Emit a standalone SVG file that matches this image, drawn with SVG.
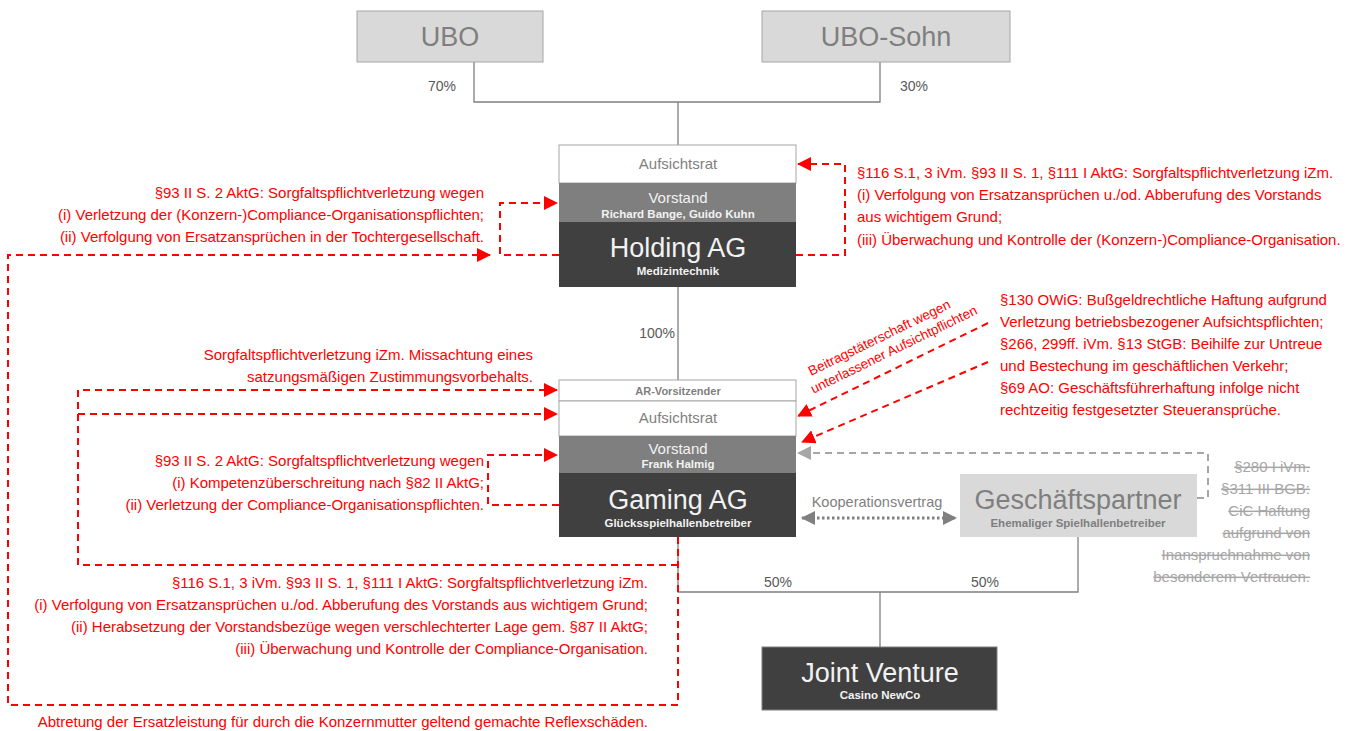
<svg xmlns="http://www.w3.org/2000/svg" width="1354" height="731" viewBox="0 0 1354 731">
<defs>
<marker id="ar" markerUnits="userSpaceOnUse" markerWidth="14" markerHeight="14" refX="13" refY="7" orient="auto"><path d="M0,0 L14,7 L0,14 z" fill="#ff0000"/></marker>
<marker id="ag" markerUnits="userSpaceOnUse" markerWidth="14" markerHeight="14" refX="13" refY="7" orient="auto"><path d="M0,0 L14,7 L0,14 z" fill="#a6a6a6"/></marker>
<marker id="ak" markerUnits="userSpaceOnUse" markerWidth="14" markerHeight="14" refX="13" refY="7" orient="auto"><path d="M0,0 L14,7 L0,14 z" fill="#808080"/></marker>
<marker id="aks" markerUnits="userSpaceOnUse" markerWidth="14" markerHeight="14" refX="1" refY="7" orient="auto"><path d="M14,0 L0,7 L14,14 z" fill="#808080"/></marker>
</defs>
<style>
text{font-family:"Liberation Sans",Arial,sans-serif}
.lt{fill:#d9d9d9;stroke:#a6a6a6;stroke-width:1}
.wh{fill:#ffffff;stroke:#a6a6a6;stroke-width:1}
.md{fill:#7f7f7f}
.dk{fill:#404040}
.big{font-size:27px;text-anchor:middle}
.mid{font-size:15px;text-anchor:middle}
.sub{font-size:11.5px;font-weight:bold;text-anchor:middle}
.gt{fill:#7f7f7f}
.wt{fill:#f2f2f2}
.pc{font-size:14px;fill:#595959}
.red{font-size:15px;fill:#ff0000}
.rt{text-anchor:end}
.st{font-size:15px;fill:#a6a6a6;text-decoration:line-through;text-anchor:end}
.ln{fill:none;stroke:#7f7f7f;stroke-width:1.3}
.rd{fill:none;stroke:#ff0000;stroke-width:2;stroke-dasharray:7,5}
.gd{fill:none;stroke:#a6a6a6;stroke-width:2;stroke-dasharray:7,5}
</style>
<rect width="1354" height="731" fill="#ffffff"/>
<g id="connectors">
<path class="ln" d="M474,62 V102 H880 V62 M678,102 V145"/>
<path class="ln" d="M678,287 V380"/>
<path class="ln" d="M678,537 V592 H1078 V537 M880,592 V647" stroke="#a6a6a6"/>
<path class="rd" d="M559,255 H500 V203 H557" marker-end="url(#ar)"/>
<path class="rd" d="M678,537 V705 H8 V255 H490" marker-end="url(#ar)"/>
<path class="rd" d="M796,255 H845 V164 H798" marker-end="url(#ar)"/>
<path class="rd" d="M678,565 H78 V390 H557" marker-end="url(#ar)"/>
<path class="rd" d="M78,414 H557" marker-end="url(#ar)"/>
<path class="rd" d="M559,505 H488 V455 H557" marker-end="url(#ar)"/>
<path class="rd" d="M988,323 L798,416" marker-end="url(#ar)"/>
<path class="rd" d="M988,362 L802,442" marker-end="url(#ar)"/>
<path class="gd" d="M1197,498 H1208 V453 H798" marker-end="url(#ag)"/>
<path d="M802,518 H956" fill="none" stroke="#808080" stroke-width="3" stroke-dasharray="2.5,2.5" marker-start="url(#aks)" marker-end="url(#ak)"/>
</g>
<g id="ubo">
<rect class="lt" x="357" y="11" width="186" height="51"/>
<text class="big gt" x="450" y="46">UBO</text>
</g>
<g id="ubo-sohn">
<rect class="lt" x="762" y="11" width="248" height="51"/>
<text class="big gt" x="886" y="46">UBO-Sohn</text>
</g>
<g id="labels-pct">
<text class="pc" x="428" y="91">70%</text>
<text class="pc" x="900" y="91">30%</text>
<text class="pc" x="675" y="338" text-anchor="end">100%</text>
<text class="pc" x="778" y="587" text-anchor="middle">50%</text>
<text class="pc" x="985" y="587" text-anchor="middle">50%</text>
</g>
<g id="holding">
<rect class="wh" x="559" y="145" width="237" height="38"/>
<text class="mid gt" x="678" y="169">Aufsichtsrat</text>
<rect class="md" x="559" y="183" width="237" height="39"/>
<text class="mid wt" x="678" y="203">Vorstand</text>
<text class="sub wt" x="678" y="218">Richard Bange, Guido Kuhn</text>
<rect class="dk" x="559" y="222" width="237" height="65"/>
<text class="big wt" x="678" y="257">Holding AG</text>
<text class="sub wt" x="678" y="275">Medizintechnik</text>
</g>
<g id="gaming">
<rect class="wh" x="559" y="380" width="237" height="21"/>
<text class="gt" x="678" y="395" font-size="11" font-weight="bold" text-anchor="middle">AR-Vorsitzender</text>
<rect class="wh" x="559" y="401" width="237" height="35"/>
<text class="mid gt" x="678" y="423">Aufsichtsrat</text>
<rect class="md" x="559" y="436" width="237" height="37"/>
<text class="mid wt" x="678" y="454">Vorstand</text>
<text class="sub wt" x="678" y="468">Frank Halmig</text>
<rect class="dk" x="559" y="473" width="237" height="64"/>
<text class="big wt" x="678" y="509">Gaming AG</text>
<text class="sub wt" x="678" y="527">Glücksspielhallenbetreiber</text>
</g>
<g id="geschaeftspartner">
<rect x="960" y="474" width="237" height="63" fill="#d9d9d9"/>
<text class="big gt" x="1078" y="509">Geschäftspartner</text>
<text class="sub gt" x="1078" y="527">Ehemaliger Spielhallenbetreiber</text>
</g>
<g id="joint-venture">
<rect class="dk" x="762" y="647" width="235" height="63" stroke="#7f7f7f"/>
<text class="big wt" x="880" y="682">Joint Venture</text>
<text class="sub wt" x="880" y="699">Casino NewCo</text>
</g>
<g id="kooperation">
<text x="877" y="507" font-size="14.5" fill="#7f7f7f" text-anchor="middle">Kooperationsvertrag</text>
</g>
<g id="text-holding-left">
<text class="red rt" x="484" y="198">§93 II S. 2 AktG: Sorgfaltspflichtverletzung wegen</text>
<text class="red rt" x="484" y="220">(i) Verletzung der (Konzern-)Compliance-Organisationspflichten;</text>
<text class="red rt" x="484" y="242">(ii) Verfolgung von Ersatzansprüchen in der Tochtergesellschaft.</text>
</g>
<g id="text-holding-right">
<text class="red" x="857" y="178">§116 S.1, 3 iVm. §93 II S. 1, §111 I AktG: Sorgfaltspflichtverletzung iZm.</text>
<text class="red" x="857" y="200">(i) Verfolgung von Ersatzansprüchen u./od. Abberufung des Vorstands</text>
<text class="red" x="857" y="222">aus wichtigem Grund;</text>
<text class="red" x="857" y="245">(iii) Überwachung und Kontrolle der (Konzern-)Compliance-Organisation.</text>
</g>
<g id="text-owig">
<text class="red" x="1000" y="305">§130 OWiG: Bußgeldrechtliche Haftung aufgrund</text>
<text class="red" x="1000" y="327">Verletzung betriebsbezogener Aufsichtspflichten;</text>
<text class="red" x="1000" y="349">§266, 299ff. iVm. §13 StGB: Beihilfe zur Untreue</text>
<text class="red" x="1000" y="371">und Bestechung im geschäftlichen Verkehr;</text>
<text class="red" x="1000" y="393">§69 AO: Geschäftsführerhaftung infolge nicht</text>
<text class="red" x="1000" y="415">rechtzeitig festgesetzter Steueransprüche.</text>
</g>
<g id="text-beitrag">
<g transform="translate(887,349) rotate(-26)">
<text x="-2" y="-9" font-size="13.5" fill="#ff0000" text-anchor="middle">Beitragstäterschaft wegen</text>
<text x="6" y="8" font-size="13.5" fill="#ff0000" text-anchor="middle">unterlassener Aufsichtpflichten</text>
</g>
</g>
<g id="text-gaming-ar">
<text class="red rt" x="533" y="360">Sorgfaltspflichtverletzung iZm. Missachtung eines</text>
<text class="red rt" x="533" y="382">satzungsmäßigen Zustimmungsvorbehalts.</text>
</g>
<g id="text-gaming-left">
<text class="red rt" x="484" y="466">§93 II S. 2 AktG: Sorgfaltspflichtverletzung wegen</text>
<text class="red rt" x="484" y="488">(i) Kompetenzüberschreitung nach §82 II AktG;</text>
<text class="red rt" x="484" y="510">(ii) Verletzung der Compliance-Organisationspflichten.</text>
</g>
<g id="text-gaming-bottom">
<text class="red rt" x="648" y="588">§116 S.1, 3 iVm. §93 II S. 1, §111 I AktG: Sorgfaltspflichtverletzung iZm.</text>
<text class="red rt" x="648" y="610">(i) Verfolgung von Ersatzansprüchen u./od. Abberufung des Vorstands aus wichtigem Grund;</text>
<text class="red rt" x="648" y="632">(ii) Herabsetzung der Vorstandsbezüge wegen verschlechterter Lage gem. §87 II AktG;</text>
<text class="red rt" x="648" y="654">(iii) Überwachung und Kontrolle der Compliance-Organisation.</text>
</g>
<g id="text-abtretung">
<text class="red rt" x="648" y="727">Abtretung der Ersatzleistung für durch die Konzernmutter geltend gemachte Reflexschäden.</text>
</g>
<g id="text-cic">
<text class="st" x="1310" y="472">§280 I iVm.</text>
<text class="st" x="1310" y="494">§311 III BGB:</text>
<text class="st" x="1310" y="516">CiC Haftung</text>
<text class="st" x="1310" y="538">aufgrund von</text>
<text class="st" x="1310" y="560">Inanspruchnahme von</text>
<text class="st" x="1310" y="582">besonderem Vertrauen.</text>
</g>
</svg>
